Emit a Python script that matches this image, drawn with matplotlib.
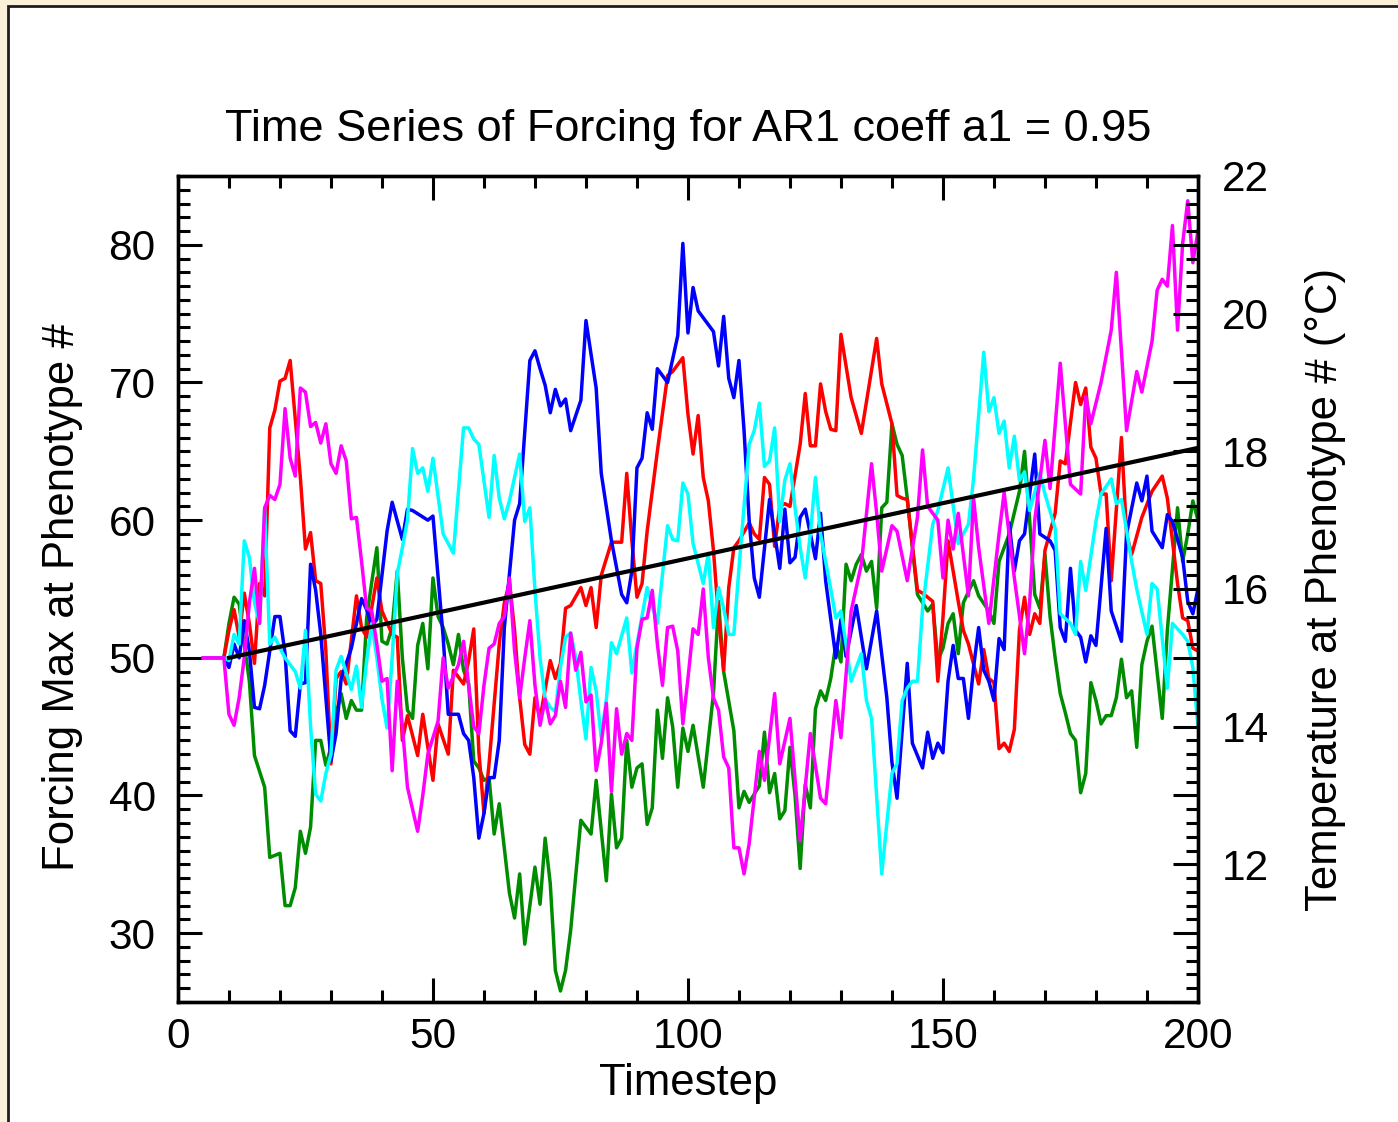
import matplotlib
matplotlib.use("Agg")
import matplotlib.pyplot as plt
from matplotlib.patches import Rectangle
from matplotlib.ticker import MultipleLocator, FuncFormatter

plt.rcParams['font.family'] = ['Liberation Sans', 'DejaVu Sans']

# (timestep, forcing) pairs
red = [(5,50),(9,50),(10,52),(11,53.5),(12,51.5),(13,54.7),(14,52.5),(15,49.6),(16,55.4),(17,54.5),(18,66.7),(19,68),(20,70.1),(21,70.3),(22,71.6),(24,63.1),(25,57.9),(26,59.1),(27,55.6),(28,55.4),(29,50.5),(30,42.3),(31,48.5),(32,49),(33,48.1),(35,54.5),(36,52.2),(37,51.5),(39,55.8),(40,53.4),(42,51.7),(43,51.5),(44,44),(45,45.8),(47,42.9),(48,45.9),(50,41.1),(51,45.2),(53,43),(54,49.1),(56,48.1),(57,49.8),(58,52.1),(59,43.2),(60,38.7),(61,42.3),(63,51),(64,54),(65,55.5),(66,52),(67,47.1),(68,43.7),(69,43),(70,47.1),(71,45.6),(73,49.8),(74,48.5),(75,49.6),(76,53.6),(77,53.8),(79,55.1),(80,53.8),(81,55.1),(82,52.2),(83,56),(85,58.4),(87,58.4),(88,63.4),(89,58.5),(90,54.4),(91,55.4),(92,59.2),(94,65),(96,70.5),(97,70.8),(99,71.8),(100,67.7),(101,64.8),(102,67.6),(103,63.1),(104,61.4),(105,57.8),(106,52.9),(107,49.1),(108,55.1),(109,58),(110,58.5),(112,59.8),(113,59),(114,58.6),(115,63.1),(116,62.6),(117,58.1),(118,61),(119,61.2),(120,61),(122,65.5),(123,69.2),(124,65.4),(125,65.4),(126,69.9),(127,67.9),(128,66.6),(129,66.5),(130,73.5),(132,68.9),(134,66.3),(137,73.2),(138,69.9),(140,67),(141,61.8),(142,61.6),(143,61.5),(145,54.9),(146,54.7),(148,54.1),(149,48.3),(150,52.9),(151,58.5),(153,54.1),(154,52),(155,51),(157,48.1),(158,50.6),(159,48.5),(160,48.2),(161,43.4),(162,43.8),(163,43.2),(164,44.8),(165,52),(166,54.4),(167,51.7),(168,53.2),(169,52.5),(170,57.8),(172,60.5),(173,64.3),(174,64.1),(176,70),(177,68.4),(178,69.6),(179,65.3),(180,64.5),(181,61.9),(182,61.9),(183,55.6),(185,66),(186,59),(187,57.5),(189,60.2),(191,62.1),(193,63.2),(194,61.6),(196,55.4),(197,52.9),(198,52.7),(199,50.7),(200,50.5)]

blue = [(5,50),(9,50),(10,49.3),(11,51),(12,50),(13,52.7),(14,50.5),(15,46.4),(16,46.3),(17,48),(19,53),(20,53),(21,50.3),(22,44.7),(23,44.3),(24,48.1),(25,48.2),(26,56.8),(27,54.9),(28,51.7),(30,42.5),(31,44.5),(32,48.5),(34,50.7),(36,54.3),(37,53.5),(38,52.3),(39,52.8),(41,59.2),(42,61.3),(44,58.6),(45,60.8),(46,60.7),(49,60),(50,60.3),(52,51.5),(53,45.9),(55,45.9),(56,44.5),(57,44),(58,41.3),(59,36.9),(60,38.7),(61,41.3),(62,41.3),(63,44),(64,52.2),(66,60),(67,61.2),(69,71.6),(70,72.3),(71,71),(72,69.8),(73,67.8),(74,69.5),(75,68.3),(76,68.8),(77,66.5),(79,68.7),(80,74.5),(82,69.6),(83,63.4),(85,58.5),(87,54.6),(88,54),(89,56.3),(90,63.8),(91,64.5),(92,67.8),(93,66.6),(94,71),(96,70),(98,73.4),(99,80.1),(100,73.6),(101,76.9),(102,75.2),(104,74.2),(105,73.7),(106,71.2),(107,74.8),(108,70.3),(109,68.9),(110,71.6),(111,66.5),(112,60),(113,55.8),(114,54.4),(116,61.5),(118,56.5),(119,60.8),(120,56.9),(121,57.3),(122,60.2),(123,60.8),(125,57.2),(126,60.5),(127,55.6),(129,50),(130,52.8),(131,50.1),(133,53.8),(135,49.2),(137,53.4),(139,47.1),(140,42.4),(141,39.8),(143,49.6),(144,43.8),(146,42),(147,44.6),(148,42.7),(149,43.8),(150,43.1),(151,48.3),(152,50.9),(153,48.5),(154,48.5),(155,45.6),(156,49.3),(157,52.2),(158,49.1),(159,48.3),(160,46.9),(161,51.4),(162,50.6),(163,59.8),(164,56.3),(165,58.5),(166,59),(168,64.8),(169,59),(171,58.5),(172,57.8),(173,52.2),(174,51.2),(175,56.5),(176,52),(177,51.5),(178,49.7),(179,51.6),(180,50.9),(182,59.4),(183,53.4),(185,51.2),(186,59),(188,62.7),(189,61.4),(190,63.2),(191,59.2),(193,58),(194,60.4),(195,59.9),(197,57.3),(198,54.1),(199,53.2),(200,55)]

magenta = [(5,50),(9,50),(10,45.9),(11,45.1),(12,47.1),(13,50),(14,54),(15,56.5),(16,52.5),(17,60.9),(18,61.8),(19,61.5),(20,62.6),(21,68.1),(22,64.5),(23,63.2),(24,69.6),(25,69.3),(26,66.8),(27,67.1),(28,65.6),(29,67),(30,64.1),(31,63.4),(32,65.4),(33,64.3),(34,60.1),(35,60.2),(36,57),(37,53.6),(38,53.4),(39,51),(40,48.3),(41,48.5),(42,41.8),(43,48.3),(44,45),(45,40.6),(47,37.4),(48,40),(49,43),(51,45.4),(52,50),(53,47.8),(55,49.5),(56,51.2),(57,48),(58,45),(59,44.5),(60,48),(61,50.7),(62,51),(63,52.5),(64,53),(65,55.8),(66,50.5),(67,47.1),(68,50),(69,52.7),(70,48),(71,45.1),(72,47),(73,45.2),(74,45.8),(75,48.3),(76,46.4),(77,51.8),(78,49.1),(79,50.4),(80,46.8),(81,47.3),(82,41.8),(83,43.8),(84,46.7),(85,40.3),(86,46.3),(87,43),(88,44.5),(89,44),(90,50.7),(91,52.8),(92,52.9),(93,54.9),(94,51),(95,48),(96,52.2),(97,52.3),(98,50.5),(99,45.2),(100,48.5),(101,52.1),(102,51.7),(103,55),(104,50),(105,47.1),(106,46.2),(107,42.8),(108,42),(109,36.2),(110,36.2),(111,34.3),(112,36.5),(114,43.2),(115,41.1),(117,47.4),(118,42.3),(120,45.6),(122,36.7),(124,44.5),(126,39.8),(127,39.4),(129,46.9),(130,44.2),(131,48.8),(132,53.4),(134,56.8),(136,64.1),(137,60.5),(138,56.3),(140,59.6),(141,59.2),(143,55.6),(145,60.2),(146,65.1),(147,61),(149,60),(150,55.8),(151,60),(152,57.9),(153,60.5),(155,54.5),(156,61.6),(157,58),(159,52.5),(161,59),(162,62),(164,55.8),(166,50.3),(167,54),(168,60),(170,65.8),(171,62.3),(173,71.4),(175,62.6),(177,61.9),(178,69),(179,67),(181,70),(183,73.8),(184,78),(186,66.5),(188,70.8),(189,69.3),(191,73),(192,76.7),(193,77.5),(194,77),(195,81.4),(196,73.8),(197,80.1),(198,83.2),(199,78.7),(200,81)]

cyan = [(5,50),(9,50),(10,49.8),(11,51.7),(12,51),(13,58.5),(14,57.3),(15,54),(16,52.5),(17,60.9),(18,51),(19,51.5),(20,50.7),(21,50),(22,49.5),(23,49),(24,47.8),(25,52),(26,45),(27,40.1),(28,39.6),(29,41.6),(30,43),(31,49.1),(32,50.1),(34,47.7),(35,49.4),(36,46.4),(37,49.8),(38,52.5),(39,50),(40,47),(41,44.9),(42,50),(43,56.1),(44,58),(45,60),(46,65.2),(47,63.4),(48,63.8),(49,62.1),(50,64.5),(52,59),(54,57.6),(56,66.7),(57,66.7),(58,65.9),(59,65.5),(61,60.2),(62,64.7),(63,61.6),(64,60.1),(65,61.4),(67,64.8),(68,59.9),(69,60.9),(70,54.9),(71,50),(72,47),(73,46.4),(74,46.1),(75,49.3),(76,51.5),(77,51.8),(78,50),(79,46.9),(80,44.1),(81,49.3),(82,47.6),(83,44.2),(84,47),(85,51.1),(86,50.3),(88,52.9),(89,48.9),(90,51),(92,55.1),(94,52.5),(96,59.6),(97,58.6),(98,58.5),(99,62.7),(100,61.9),(101,58.3),(103,55.4),(104,57.6),(105,52.2),(106,55.1),(107,53.6),(108,51.7),(109,51.7),(110,56.5),(112,65.5),(113,66.5),(114,68.5),(115,63.9),(116,64.3),(117,66.7),(118,59.9),(119,62.9),(120,64.1),(121,60.9),(122,58),(123,55.8),(124,59),(125,63.1),(126,59),(127,57),(128,55),(129,52.9),(130,53.4),(131,51),(132,48.3),(134,50.3),(135,46.9),(136,45.6),(137,40),(138,34.3),(139,38),(140,41.6),(141,42.3),(142,46.9),(143,47.8),(144,48.3),(145,48.3),(146,53.6),(148,59.7),(149,60.7),(151,63.8),(153,58.3),(154,59),(155,59.7),(156,63),(158,72.2),(159,67.9),(160,68.9),(161,66.3),(162,67.2),(163,63.8),(164,66.1),(165,62.9),(166,63.5),(167,60.7),(168,62),(169,63.4),(170,61.9),(172,59.4),(173,53.2),(175,52.5),(176,51.7),(177,57),(178,54.9),(180,59.9),(181,61.9),(183,63),(184,61.2),(185,61.5),(187,57),(188,55),(190,51.7),(191,55.4),(192,55),(194,47.8),(195,52.5),(197,51.7),(198,51.2),(199,49.3),(200,45)]

green = [(5,50),(9,50),(10,52.5),(11,54.4),(12,53.9),(13,51),(14,48.3),(15,42.9),(17,40.6),(18,35.5),(20,35.8),(21,32),(22,32),(23,33.3),(24,37.4),(25,35.8),(26,37.7),(27,44),(28,44),(29,42.2),(30,43.5),(31,45.9),(32,47.4),(33,45.6),(34,46.9),(35,46.2),(36,46.2),(37,52.9),(38,55.5),(39,58),(40,51.2),(41,51),(42,52.2),(43,56.3),(44,50),(45,46.2),(46,45.6),(47,50.9),(48,52.5),(49,49.2),(50,55.8),(51,53),(52,52.2),(53,51),(54,49.5),(55,51.7),(56,49.1),(57,48.1),(58,42.5),(59,42),(60,41.1),(61,41.3),(62,37.2),(63,39.4),(65,32.9),(66,31.1),(67,34.3),(68,29.2),(70,34.8),(71,32.1),(72,36.9),(73,33.6),(74,27.3),(75,25.8),(76,27.3),(77,30.2),(79,38.2),(81,37.2),(82,41.1),(84,33.8),(85,40.1),(86,36.2),(87,36.9),(88,44),(89,40.6),(90,42),(91,42.3),(92,37.9),(93,39.1),(94,46.2),(95,42.7),(96,47.1),(97,45),(98,40.6),(99,44.9),(100,43.2),(101,45.1),(103,40.6),(105,47.4),(106,54.1),(107,49),(109,44.7),(110,39.1),(111,40.3),(112,39.5),(114,40.7),(115,44.6),(116,40.2),(117,41.6),(118,38.3),(119,38.9),(120,43.5),(121,40),(122,34.7),(123,40.8),(124,39.1),(125,46.3),(126,47.6),(127,46.9),(128,48.5),(129,51),(130,49.7),(131,56.8),(132,55.6),(133,56.8),(134,57.5),(135,56.3),(136,57),(137,53.6),(138,60.9),(139,61.3),(140,67),(141,65.5),(142,64.7),(143,61.6),(144,58),(145,54.6),(147,53.4),(148,53.9),(149,49.8),(150,50.7),(151,52.5),(152,53.2),(153,50.3),(154,54),(156,55.6),(157,54.5),(159,53.4),(160,52.5),(161,57),(162,58),(163,59),(165,62.1),(166,65),(167,60),(168,54.6),(169,53.6),(170,57.5),(171,53),(172,50),(173,47.4),(174,46),(175,44.5),(176,44),(177,40.2),(178,41.6),(179,48.2),(180,46.9),(181,45.2),(182,45.8),(183,45.8),(184,47.1),(185,49.9),(186,47.1),(187,47.6),(188,43.5),(189,49.5),(190,51.2),(191,52.3),(193,45.6),(194,52),(196,60.9),(197,57),(198,59),(199,61.4),(200,60)]

# temperature trend (right axis)
trend_t = [10, 200]
trend_temp = [15.0, 18.05]

series = [(green, '#008c00'), (red, '#ff0000'), (blue, '#0000ff'),
          (cyan, '#00ffff'), (magenta, '#ff00ff')]

fig = plt.figure(figsize=(13.98, 11.22), dpi=100)
fig.patch.set_facecolor('#fbf0d9')
frame = Rectangle((8/1398, -0.05), 1.1, 1 - 6/1122 + 0.05, transform=fig.transFigure,
                  facecolor='white', edgecolor='#1e1e1e', linewidth=2, zorder=0)
fig.add_artist(frame)

ax = fig.add_axes([0.1273, 0.10695, 0.7296, 0.7362])
for pts, col in series:
    ts = [p[0] for p in pts]
    vs = [p[1] for p in pts]
    ax.plot(ts, vs, color=col, lw=2.5)

ax.set_xlim(0, 200)
ax.set_ylim(25, 85)
ax.xaxis.set_major_locator(MultipleLocator(50))
ax.xaxis.set_minor_locator(MultipleLocator(10))
ax.yaxis.set_major_locator(MultipleLocator(10))
ax.yaxis.set_minor_locator(MultipleLocator(1))
ax.tick_params(which='both', direction='in', top=True, right=False, width=2.2, labelsize=30.5)
ax.tick_params(which='major', length=17)
ax.tick_params(which='minor', length=8.5)
ax.tick_params(axis='y', pad=16)
ax.tick_params(axis='x', pad=11)
for s in ax.spines.values():
    s.set_linewidth(2.4)

ax2 = ax.twinx()
ax2.plot(trend_t, trend_temp, color='black', lw=3)
ax2.set_ylim(10, 22)
ax2.yaxis.set_major_locator(MultipleLocator(1))
ax2.yaxis.set_minor_locator(MultipleLocator(0.2))
ax2.yaxis.set_major_formatter(FuncFormatter(
    lambda v, p: '%d' % round(v) if round(v) % 2 == 0 and v >= 11.5 else ''))
ax2.tick_params(which='both', direction='in', width=2.2, labelsize=30.5, pad=17)
ax2.tick_params(which='major', length=18)
ax2.tick_params(which='minor', length=8.5)
for s in ax2.spines.values():
    s.set_linewidth(2.4)

ax.set_xlabel('Timestep', fontsize=31.5)
ax.xaxis.set_label_coords(0.5, -0.074)
ax.set_ylabel('Forcing Max at Phenotype #', fontsize=31.5)
ax.yaxis.set_label_coords(-0.093, 0.49)
ax2.set_ylabel('Temperature at Phenotype # (°C)', fontsize=31.5)
ax2.yaxis.set_label_coords(1.105, 0.5)
ax.text(0.5, 1.056, 'Time Series of Forcing for AR1 coeff a1 = 0.95', transform=ax.transAxes,
        ha='center', va='center', fontsize=32.5)

fig.savefig('out.png', dpi=100, facecolor=fig.get_facecolor())
